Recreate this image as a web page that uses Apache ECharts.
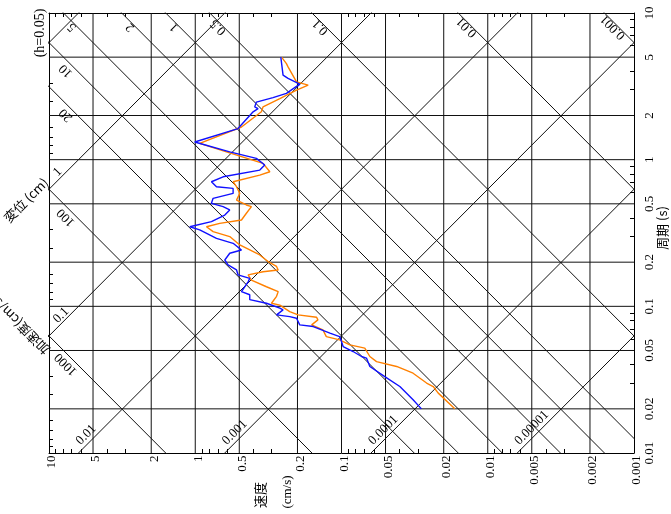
<!DOCTYPE html>
<html><head><meta charset="utf-8">
<script src="https://cdn.jsdelivr.net/npm/echarts@6/dist/echarts.min.js"></script>
<style>html,body{margin:0;padding:0;background:#fff}#c{width:671px;height:514px}</style>
</head><body><div id="c"></div>
<script>
// ---------- data ----------
const velocityTicks = [10, 5, 2, 1, 0.5, 0.2, 0.1, 0.05, 0.02, 0.01, 0.005, 0.002, 0.001];
const periodTicks = [0.01, 0.02, 0.05, 0.1, 0.2, 0.5, 1, 2, 5, 10];
const velocityGrid = [5, 2, 1, 0.5, 0.2, 0.1, 0.05, 0.02, 0.01, 0.005, 0.002];
const periodGrid = [0.02, 0.05, 0.1, 0.2, 0.5, 1, 2, 5];
const minorMantissas = [3, 4, 6, 7, 8, 9];
const dispLines = [10, 1, 0.1, 0.01, 0.001, 0.0001, 0.00001];
const dispLabels = [1, 0.1, 0.01, 0.001, 0.0001, 0.00001];
const accLines = [1000, 100, 20, 10, 5, 2, 1, 0.5, 0.1, 0.01, 0.001];
const accLabels = [1000, 100, 20, 10, 5, 2, 1, 0.5, 0.1, 0.01, 0.001];

const bluePeriod = [5.0, 3.77, 3.58, 3.27, 2.83, 2.65, 2.47, 2.29, 2.23, 2.12, 1.63, 1.32, 1.13, 1.02, 0.919, 0.849, 0.764, 0.707, 0.654, 0.637, 0.589, 0.545, 0.504, 0.478, 0.454, 0.419, 0.378, 0.349, 0.332, 0.291, 0.269, 0.242, 0.230, 0.207, 0.192, 0.177, 0.164, 0.155, 0.147, 0.126, 0.120, 0.111, 0.105, 0.0971, 0.0946, 0.0874, 0.0851, 0.083, 0.0747, 0.0728, 0.0656, 0.0622, 0.0575, 0.0532, 0.0492, 0.0455, 0.0444, 0.0389, 0.0332, 0.0284, 0.0231, 0.02];
const blueVelocity = [0.260, 0.251, 0.232, 0.193, 0.238, 0.294, 0.382, 0.392, 0.372, 0.402, 0.510, 1.008, 0.581, 0.382, 0.335, 0.362, 0.645, 0.775, 0.716, 0.551, 0.551, 0.755, 0.775, 0.645, 0.581, 0.628, 0.775, 1.09, 0.932, 0.716, 0.551, 0.483, 0.581, 0.628, 0.597, 0.522, 0.510, 0.424, 0.435, 0.483, 0.424, 0.424, 0.326, 0.264, 0.251, 0.278, 0.226, 0.203, 0.193, 0.156, 0.120, 0.103, 0.100, 0.0975, 0.0833, 0.0730, 0.0675, 0.0640, 0.0506, 0.0399, 0.0324, 0.0284];
const orangePeriod = [5.0, 4.52, 4.29, 3.39, 3.22, 2.98, 2.61, 2.29, 2.12, 1.67, 1.29, 1.13, 0.943, 0.827, 0.785, 0.707, 0.654, 0.589, 0.530, 0.491, 0.478, 0.431, 0.388, 0.368, 0.349, 0.323, 0.299, 0.262, 0.224, 0.202, 0.187, 0.177, 0.172, 0.164, 0.151, 0.136, 0.126, 0.117, 0.105, 0.102, 0.0921, 0.0874, 0.0843, 0.0808, 0.0747, 0.0691, 0.0622, 0.0591, 0.0546, 0.0519, 0.0455, 0.042, 0.0389, 0.035, 0.030, 0.0284, 0.0256, 0.02];
const orangeVelocity = [0.257, 0.238, 0.232, 0.203, 0.169, 0.203, 0.264, 0.344, 0.353, 0.483, 0.932, 0.612, 0.344, 0.309, 0.362, 0.551, 0.522, 0.496, 0.522, 0.447, 0.413, 0.447, 0.483, 0.680, 0.838, 0.755, 0.581, 0.496, 0.362, 0.318, 0.278, 0.271, 0.344, 0.435, 0.413, 0.326, 0.271, 0.278, 0.301, 0.264, 0.226, 0.198, 0.148, 0.145, 0.160, 0.134, 0.127, 0.103, 0.0877, 0.0693, 0.0640, 0.0576, 0.0420, 0.0324, 0.0262, 0.0236, 0.0218, 0.0168];

// ---------- helpers ----------
const L = Math.log10;
const TWO_PI = 2 * Math.PI;
const SERIF = "'Liberation Serif','DejaVu Serif',serif";
const CJK = "'Noto Sans CJK JP','Noto Sans CJK SC',sans-serif";
const V_MIN = 0.001, V_MAX = 10, T_MIN = 0.01, T_MAX = 10;

const minorV = [];
for (let e = -3; e < 1; e++) for (const m of minorMantissas) minorV.push(L(m) + e);
const minorT = [];
for (let e = -2; e < 1; e++) for (const m of minorMantissas) minorT.push(L(m) + e);
// left axis: ticks of the frequency scale (f = 1/T)
const minorF = [];
for (let e = -1; e < 2; e++) for (const m of minorMantissas) minorF.push(-(L(m) + e));

const series = [];
const gridStyle = { color: '#111', width: 1 };
function addLine(data, style) {
  series.push({ type: 'line', data, showSymbol: false, silent: true, animation: false,
    clip: true, lineStyle: style, z: 1, xAxisIndex: 0, yAxisIndex: 0 });
}
velocityGrid.forEach(v => addLine([[L(v), L(T_MIN)], [L(v), L(T_MAX)]], gridStyle));
periodGrid.forEach(t => addLine([[L(V_MIN), L(t)], [L(V_MAX), L(t)]], gridStyle));
// displacement D = V*T/(2pi)  ->  logV = log(2piD) - logT
dispLines.forEach(d => { const c = L(TWO_PI * d); addLine([[c + 3, -3], [c - 2, 2]], gridStyle); });
// acceleration A = 2pi*V/T  ->  logV = log(A/2pi) + logT
accLines.forEach(a => { const c = L(a / TWO_PI); addLine([[c - 3, -3], [c + 2, 2]], gridStyle); });

series.push({ type: 'line', name: 'blue', data: bluePeriod.map((t, i) => [L(blueVelocity[i]), L(t)]),
  showSymbol: false, animation: false, clip: true, lineStyle: { color: '#1010ff', width: 1.4 }, z: 5 });
series.push({ type: 'line', name: 'orange', data: orangePeriod.map((t, i) => [L(orangeVelocity[i]), L(t)]),
  showSymbol: false, animation: false, clip: true, lineStyle: { color: '#ff8000', width: 1.4 }, z: 4 });

const axisLine = { show: true, onZero: false, lineStyle: { color: '#000', width: 1 } };
function axisTick(vals) {
  return { show: true, inside: true, length: 4, customValues: vals, lineStyle: { color: '#000' } };
}
const option = {
  animation: false,
  backgroundColor: '#fff',
  grid: { left: 49, top: 13, right: 37, bottom: 61, containLabel: false },
  xAxis: [
    { type: 'value', min: L(V_MIN), max: L(V_MAX), inverse: true, position: 'bottom',
      axisLine, splitLine: { show: false }, axisTick: axisTick(minorV), axisLabel: { show: false } },
    { type: 'value', min: L(V_MIN), max: L(V_MAX), inverse: true, position: 'top',
      axisLine, splitLine: { show: false }, axisTick: axisTick(minorV), axisLabel: { show: false } }
  ],
  yAxis: [
    { type: 'value', min: L(T_MIN), max: L(T_MAX), position: 'right',
      axisLine, splitLine: { show: false }, axisTick: axisTick(minorT), axisLabel: { show: false } },
    { type: 'value', min: L(T_MIN), max: L(T_MAX), position: 'left',
      axisLine, splitLine: { show: false }, axisTick: axisTick(minorF), axisLabel: { show: false } }
  ],
  series,
  graphic: []
};

const chart = echarts.init(document.getElementById('c'));
chart.setOption(option);

// ---------- text placed through the axes' scales ----------
function px(x, y) { return chart.convertToPixel({ xAxisIndex: 0, yAxisIndex: 0 }, [x, y]); }
function textEl(text, x, y, rot, align, font, vAlign) {
  const va = vAlign || 'middle';
  return { type: 'text', x, y, rotation: rot, silent: true, z: 10,
    style: { text, fill: '#000', font, align, verticalAlign: va,
      textAlign: align, textVerticalAlign: va } };
}
const graphics = [];
const FONT13 = '13px ' + SERIF;
const bottomPx = px(0, L(T_MIN))[1];
const rightPx = px(L(V_MIN), 0)[0];
// velocity tick labels (bottom), reading bottom-to-top
velocityTicks.forEach(v => {
  const x = px(L(v), 0)[0];
  graphics.push(textEl(String(v), x + 3, bottomPx + 2.5, Math.PI / 2, 'right', FONT13));
});
// period tick labels (right)
periodTicks.forEach(t => {
  const y = px(0, L(t))[1];
  graphics.push(textEl(String(t), rightPx + 16, y, Math.PI / 2, 'center', FONT13));
});

const lx = L(V_MAX), by = L(T_MIN), ty = L(T_MAX);
dispLabels.forEach(d => {
  const c = L(TWO_PI * d);
  let ex, ey, along, perp;
  if (c - lx >= by) { ex = lx; ey = c - lx; along = 15; perp = 6; }
  else { ey = by; ex = c - by; along = 7; perp = 7.5; }
  const p0 = px(ex, ey), p1 = px(ex - 0.5, ey + 0.5);
  const len = Math.hypot(p1[0] - p0[0], p1[1] - p0[1]);
  const ux = (p1[0] - p0[0]) / len, uy = (p1[1] - p0[1]) / len; // up-right
  const nx = uy, ny = -ux; // upper-left normal
  const ang = Math.atan2(-uy, ux);
  graphics.push(textEl(String(d), p0[0] + ux * along + nx * perp, p0[1] + uy * along + ny * perp,
    ang, 'left', FONT13));
});
accLabels.forEach(a => {
  const c = L(a / TWO_PI);
  let ex, ey, along, perp;
  if (lx - c <= ty) { ex = lx; ey = lx - c; along = 32; perp = 8; }
  else { ey = ty; ex = ty + c; along = 16; perp = 4; }
  const p0 = px(ex, ey), p1 = px(ex - 0.5, ey - 0.5);
  const len = Math.hypot(p1[0] - p0[0], p1[1] - p0[1]);
  const ux = (p1[0] - p0[0]) / len, uy = (p1[1] - p0[1]) / len; // down-right
  const nx = -uy, ny = ux; // lower-left normal
  const ang = Math.atan2(-uy, ux) + Math.PI; // upside-down text
  graphics.push(textEl(String(a), p0[0] + ux * along + nx * perp, p0[1] + uy * along + ny * perp,
    ang, 'center', FONT13));
});
graphics.push(textEl('(h=0.05)', 40, 33, Math.PI / 2, 'center', '14px ' + SERIF));
graphics.push(textEl('速度', 260, 495, Math.PI / 2, 'center', '13px ' + CJK));
graphics.push(textEl('(cm/s)', 288, 492, Math.PI / 2, 'center', FONT13));
graphics.push(textEl('周期 (s)', 662, 228, Math.PI / 2, 'center', '13px ' + CJK));
graphics.push(textEl('変位 (cm)', 26, 200, Math.PI / 4, 'center', '13px ' + CJK));
graphics.push(textEl('加速度(cm/s²)', 18, 323, 3 * Math.PI / 4, 'center', '13px ' + CJK));
chart.setOption({ graphic: graphics });
</script>
</body></html>
